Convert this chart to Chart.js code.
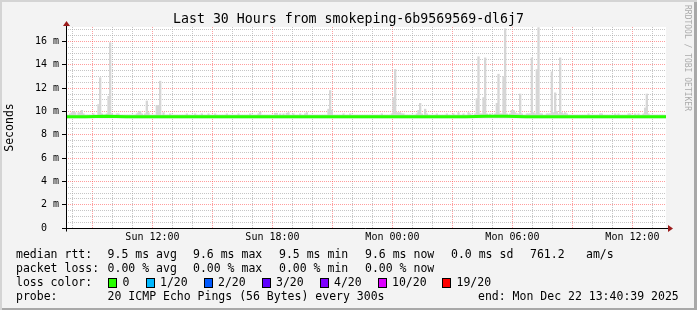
<!DOCTYPE html>
<html>
<head>
<meta charset="utf-8">
<title>smokeping-6b9569569-dl6j7</title>
<script src="https://cdn.jsdelivr.net/npm/chart.js@4.4.1/dist/chart.umd.min.js"></script>
<style>
    html, body { margin: 0; padding: 0; background: #f3f3f3; }
    #frame { position: relative; width: 697px; height: 310px; overflow: hidden; background: #f3f3f3; }
    #chart { position: absolute; left: 0; top: 0; }
    #edge { position: absolute; left: 0; top: 0; width: 697px; height: 310px; pointer-events: none;
            box-shadow: inset 2px 2px 0 #d4d4d4, inset -3px -2px 0 #a8a8a8; }
    .t { position: absolute; font-family: "DejaVu Sans Mono", monospace; font-size: 11.5px;
         line-height: 14px; white-space: pre; color: #000; }
    #title { left: 0; width: 697px; top: 11px; text-align: center; font-size: 13.25px; line-height: 16px; }
    #mark { left: 683px; top: 5px; font-size: 8px; line-height: 9px; color: #ababab; writing-mode: vertical-rl; }
    .box { position: absolute; width: 7px; height: 8px; border: 1px solid #000; box-sizing: content-box; }
</style>
</head>
<body>
<div id="frame">
    <canvas id="chart" width="697" height="310"></canvas>
    <div class="t" id="title">Last 30 Hours from smokeping-6b9569569-dl6j7</div>
    <div class="t" id="mark">RRDTOOL / TOBI OETIKER</div>
    <div id="legend"></div>
    <div id="edge"></div>
</div>
<script>
// time axis: 30 hours ending Mon Dec 22 13:40:39, hours counted from Sun 00:00
const START_H = 7 + 40 / 60 + 39 / 3600;
const SPAN_H = 30;
const STEP_H = 5 / 60; // one sample every 300 s

const xLabelHours = [12, 18, 24, 30, 36];
const xLabels = ["Sun 12:00", "Sun 18:00", "Mon 00:00", "Mon 06:00", "Mon 12:00"];
const yLabelValues = [0, 2, 4, 6, 8, 10, 12, 14, 16];
const yLabels = ["0  ", "2 m", "4 m", "6 m", "8 m", "10 m", "12 m", "14 m", "16 m"];

// smoke: lowest and highest ping of each 5 minute sample (ms)
const smokeLow = 9.45;
const smokeHigh = [
    9.7, 9.7, 9.8, 9.9, 10.0, 9.9, 9.7, 9.9, 9.9, 10.1, 9.8, 9.7, 9.7, 9.7, 9.7, 9.7, 9.8, 9.7, 9.7, 10.6,
    12.9, 9.8, 9.7, 9.7, 9.8, 11.3, 15.9, 9.8, 9.7, 9.7, 9.8, 9.8, 9.7, 9.7, 9.7, 9.7, 9.7, 9.7, 9.7, 9.7,
    9.7, 9.7, 9.8, 9.9, 10.0, 9.8, 9.7, 9.8, 10.9, 9.9, 9.7, 9.7, 9.7, 9.7, 10.5, 10.5, 12.6, 9.7, 9.9, 9.7,
    9.7, 9.7, 9.8, 9.7, 9.7, 9.7, 9.7, 9.7, 9.7, 9.7, 9.7, 9.7, 9.8, 9.7, 9.7, 9.7, 9.7, 9.8, 9.7, 9.7,
    9.7, 9.8, 9.7, 9.7, 9.7, 9.8, 9.7, 9.7, 9.7, 9.8, 9.7, 9.7, 9.7, 9.7, 9.7, 9.7, 9.8, 9.7, 9.7, 9.7,
    9.7, 9.7, 9.7, 9.8, 9.7, 9.7, 9.7, 9.7, 9.7, 9.7, 9.8, 9.7, 9.7, 9.7, 9.7, 9.8, 9.95, 9.7, 9.7, 9.7,
    9.7, 9.7, 9.7, 9.7, 9.7, 9.85, 9.85, 9.7, 9.8, 9.7, 9.8, 9.7, 9.85, 9.9, 9.7, 9.7, 9.8, 9.7, 9.7, 9.7,
    9.8, 9.7, 9.7, 9.8, 9.9, 9.7, 9.7, 9.7, 9.7, 9.7, 9.7, 9.7, 9.7, 9.7, 9.7, 9.7, 9.7, 10.2, 11.8, 10.1,
    9.7, 9.7, 9.7, 9.7, 9.7, 9.7, 9.8, 9.7, 9.7, 9.7, 9.8, 9.7, 9.7, 9.7, 9.7, 9.7, 9.7, 9.7, 9.7, 9.7,
    9.7, 9.7, 9.7, 9.7, 9.7, 9.7, 9.7, 9.7, 9.7, 9.8, 9.7, 9.7, 9.7, 9.7, 9.7, 9.8, 11.2, 13.6, 9.9, 9.9,
    9.9, 9.8, 9.8, 9.7, 9.7, 9.7, 9.7, 9.7, 9.7, 9.7, 9.8, 10.1, 10.7, 9.8, 9.7, 10.2, 9.8, 9.7, 9.7, 9.7,
    9.7, 9.7, 9.8, 9.7, 9.7, 9.7, 9.7, 9.7, 9.8, 9.7, 9.7, 9.7, 9.8, 9.7, 9.7, 9.9, 9.7, 9.7, 9.8, 9.7,
    9.7, 9.9, 9.8, 9.7, 9.7, 9.8, 11.1, 14.7, 9.8, 9.8, 11.2, 14.6, 9.8, 9.7, 9.8, 9.7, 9.7, 9.8, 10.7, 13.2,
    9.8, 9.8, 13.0, 17.1, 9.8, 9.7, 9.8, 10.1, 10.1, 9.9, 9.8, 9.8, 11.5, 9.8, 9.7, 9.7, 9.8, 9.8, 9.8, 14.6,
    9.9, 9.8, 13.6, 17.2, 9.8, 9.8, 9.7, 9.7, 9.8, 9.8, 9.8, 13.4, 9.9, 11.6, 10.0, 9.8, 14.6, 9.9, 9.8, 9.9,
    9.8, 9.7, 9.7, 9.7, 9.7, 9.7, 9.7, 9.7, 9.7, 9.7, 9.7, 9.7, 9.7, 9.8, 9.7, 9.7, 9.7, 9.7, 9.7, 9.7,
    9.8, 9.8, 9.7, 9.7, 9.7, 9.7, 9.7, 9.7, 9.7, 9.8, 9.7, 9.8, 9.7, 9.7, 9.7, 9.7, 9.7, 9.8, 9.8, 9.7,
    9.7, 9.8, 9.7, 9.8, 9.7, 9.7, 9.8, 10.3, 11.5, 9.8, 9.7, 9.7, 9.7, 9.7, 9.7, 9.7, 9.7, 9.7, 9.7, 9.7
];

// median rtt, one reading per hour from the start (ms)
const medianRtt = [
    9.55, 9.55, 9.6, 9.55, 9.55, 9.55, 9.55, 9.55, 9.55, 9.55, 9.55,
    9.55, 9.55, 9.55, 9.55, 9.55, 9.55, 9.55, 9.55, 9.55, 9.55,
    9.6, 9.6, 9.55, 9.55, 9.55, 9.55, 9.55, 9.55, 9.55, 9.55
];

const medianStats = ["9.5 ms avg", "9.6 ms max", "9.5 ms min", "9.6 ms now", "0.0 ms sd", "761.2", "am/s"];
const lossStats = ["0.00 % avg", "0.00 % max", "0.00 % min", "0.00 % now"];
const lossLabels = ["0", "1/20", "2/20", "3/20", "4/20", "10/20", "19/20"];
const lossColors = ["#26ff00", "#00b8ff", "#0059ff", "#5e00ff", "#7e00ff", "#dd00ff", "#ff0000"];
const probeText = "20 ICMP Echo Pings (56 Bytes) every 300s";
const endText = "end: Mon Dec 22 13:40:39 2025";

const MAJOR = "rgba(255, 60, 60, 0.5)";
const MINOR = "rgba(160, 160, 160, 0.6)";
const FONT = "DejaVu Sans Mono";

// legend block under the graph
function addText( text, x, y ) {
    const el = document.createElement( "div" );
    el.className = "t";
    el.style.left = x + "px";
    el.style.top = y + "px";
    el.textContent = text;
    document.getElementById( "legend" ).appendChild( el );
}

const rowTop = [247, 261, 275, 289];
const statX = [107.6, 193, 279, 365, 451, 530, 586];
addText( "median rtt:", 16, rowTop[0] );
medianStats.forEach( ( s, i ) => addText( s, statX[i], rowTop[0] ) );
addText( "packet loss:", 16, rowTop[1] );
lossStats.forEach( ( s, i ) => addText( s, statX[i], rowTop[1] ) );
addText( "loss color:", 16, rowTop[2] );
const boxX = [108, 145.5, 203.5, 261.5, 319.5, 377.5, 442];
lossLabels.forEach( ( label, i ) => {
    const box = document.createElement( "div" );
    box.className = "box";
    box.style.left = boxX[i] + "px";
    box.style.top = "278px";
    box.style.background = lossColors[i];
    document.getElementById( "legend" ).appendChild( box );
    addText( label, boxX[i] + 14.5, rowTop[2] );
} );
addText( "probe:", 16, rowTop[3] );
addText( probeText, 107.6, rowTop[3] );
addText( endText, 478, rowTop[3] );

// white plot area
const plotBackground = {
    id: "plotBackground",
    beforeDraw( chart ) {
        const { ctx, chartArea: a } = chart;
        ctx.save();
        ctx.fillStyle = "#ffffff";
        ctx.fillRect( a.left, a.top, a.right - a.left, a.bottom - a.top );
        ctx.restore();
    }
};

// solid axes with the little red arrows
const axisArrows = {
    id: "axisArrows",
    afterDatasetsDraw( chart ) {
        const { ctx, chartArea: a } = chart;
        const y0 = Math.round( chart.scales.y.getPixelForValue( 0 ) ) + 0.5;
        const x0 = Math.round( chart.scales.x.getPixelForValue( START_H ) ) + 0.5;
        ctx.save();
        ctx.strokeStyle = "#000";
        ctx.lineWidth = 1;
        ctx.beginPath();
        ctx.moveTo( x0 - 4, y0 );
        ctx.lineTo( a.right + 3, y0 );
        ctx.moveTo( x0, y0 + 3 );
        ctx.lineTo( x0, a.top - 3 );
        ctx.stroke();
        ctx.fillStyle = "#9b1c1c";
        ctx.beginPath();
        ctx.moveTo( a.right + 2, y0 - 3.5 );
        ctx.lineTo( a.right + 7, y0 );
        ctx.lineTo( a.right + 2, y0 + 3.5 );
        ctx.closePath();
        ctx.fill();
        ctx.beginPath();
        ctx.moveTo( x0 - 3.5, a.top - 1 );
        ctx.lineTo( x0, a.top - 6 );
        ctx.lineTo( x0 + 3.5, a.top - 1 );
        ctx.closePath();
        ctx.fill();
        ctx.restore();
    }
};

const smokePoints = smokeHigh.map( ( hi, i ) => ( { x: START_H + ( i + 0.5 ) * STEP_H, y: [smokeLow, hi] } ) );
const medianPoints = medianRtt.map( ( v, i ) => ( { x: START_H + i, y: v } ) );

const ctx = document.getElementById( "chart" ).getContext( "2d" );
new Chart( ctx, {
    type: "bar",
    data: {
        datasets: [{
            type: "line",
            label: "median rtt",
            data: medianPoints,
            borderColor: "#26ff00",
            borderWidth: 3,
            pointRadius: 0,
            tension: 0,
            order: 0
        }, {
            type: "bar",
            label: "smoke",
            data: smokePoints,
            backgroundColor: "#d6d6d6",
            borderWidth: 0,
            barPercentage: 1,
            categoryPercentage: 1,
            grouped: false,
            order: 1
        }]
    },
    options: {
        responsive: false,
        animation: false,
        devicePixelRatio: 1,
        layout: { padding: { left: 0, top: 27, right: 31, bottom: 60 } },
        plugins: {
            legend: { display: false },
            tooltip: { enabled: false },
            title: { display: false }
        },
        scales: {
            x: {
                type: "linear",
                min: START_H,
                max: START_H + SPAN_H,
                offset: false,
                afterFit: s => { s.height = 22; },
                afterBuildTicks: s => {
                    const ticks = [];
                    for ( let h = Math.ceil( START_H ); h <= START_H + SPAN_H; h++ ) ticks.push( { value: h } );
                    s.ticks = ticks;
                },
                grid: {
                    offset: false,
                    drawTicks: false,
                    color: c => ( c.tick && c.tick.value % 3 === 0 ? MAJOR : MINOR )
                },
                border: { display: false, dash: [1, 1] },
                ticks: {
                    autoSkip: false,
                    maxRotation: 0,
                    padding: 3,
                    color: "#000",
                    font: { family: FONT, size: 10 },
                    callback: v => {
                        const k = xLabelHours.indexOf( v );
                        return k >= 0 ? xLabels[k] : "";
                    }
                }
            },
            y: {
                min: 0,
                max: 17.25,
                afterFit: s => { s.width = 66; },
                afterBuildTicks: s => {
                    const ticks = [];
                    for ( let v = 0; v <= 17; v += 0.5 ) ticks.push( { value: v } );
                    s.ticks = ticks;
                },
                grid: {
                    tickLength: 4,
                    color: c => ( c.tick && c.tick.value % 2 === 0 ? MAJOR : MINOR ),
                    tickColor: c => ( c.tick && c.tick.value % 2 === 0 ? "#000" : "rgba(0,0,0,0)" )
                },
                border: { display: false, dash: [1, 1] },
                title: {
                    display: true,
                    text: "Seconds",
                    color: "#000",
                    padding: { top: 3, bottom: 0 },
                    font: { family: FONT, size: 11.5 }
                },
                ticks: {
                    autoSkip: false,
                    padding: 3,
                    color: "#000",
                    font: { family: FONT, size: 10 },
                    callback: v => {
                        const k = yLabelValues.indexOf( v );
                        return k >= 0 ? yLabels[k] : "";
                    }
                }
            }
        }
    },
    plugins: [plotBackground, axisArrows]
} );
</script>
</body>
</html>
